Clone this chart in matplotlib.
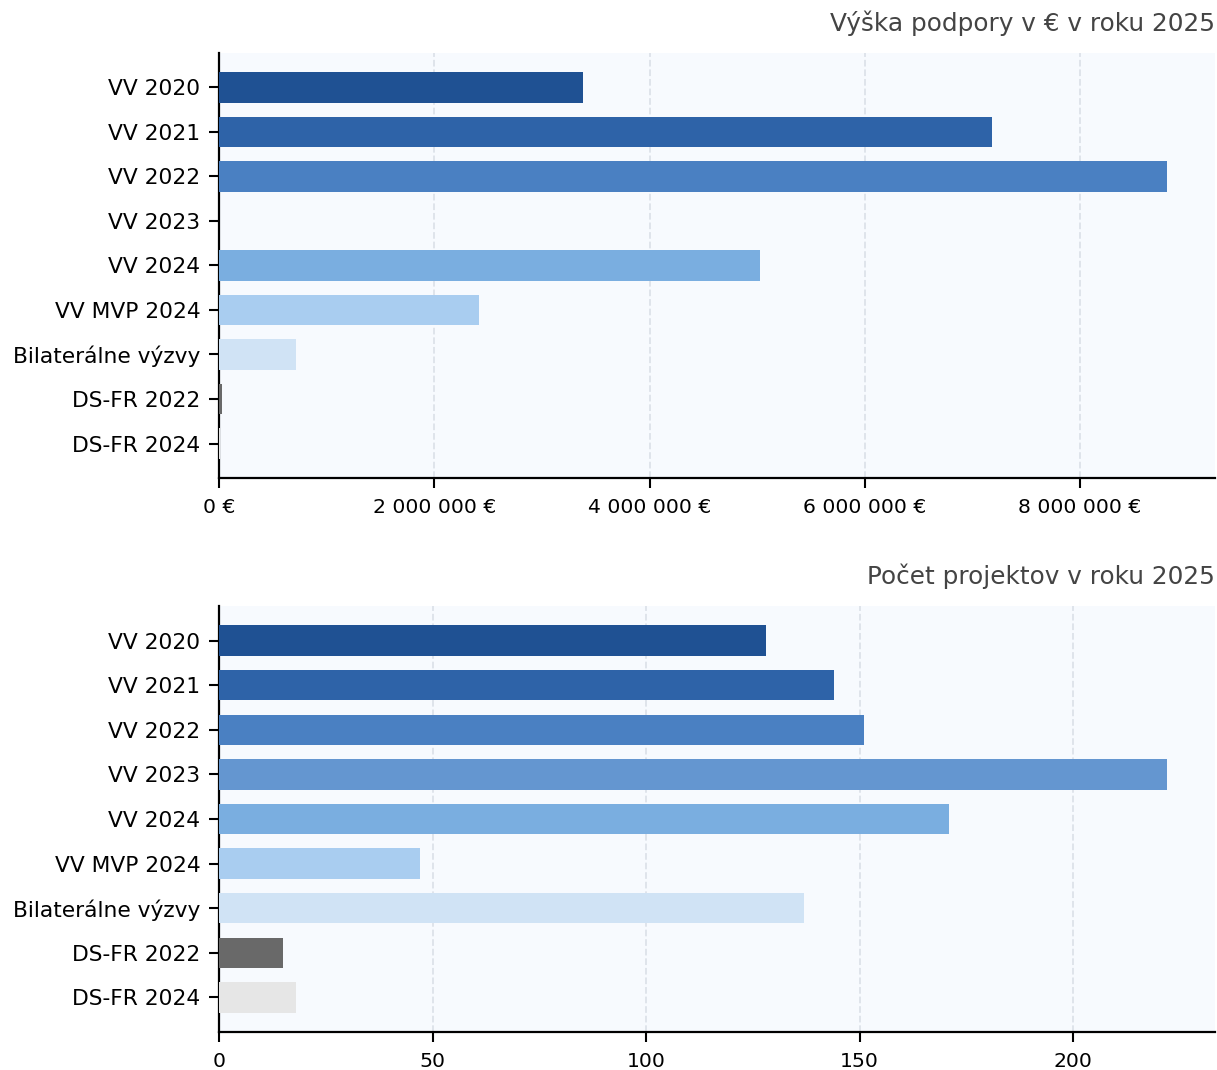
import matplotlib.pyplot as plt
from matplotlib.ticker import FuncFormatter, MultipleLocator

# data
programs = ["VV 2020", "VV 2021", "VV 2022", "VV 2023", "VV 2024",
            "VV MVP 2024", "Bilaterálne výzvy", "DS-FR 2022", "DS-FR 2024"]
support_eur = [3385000, 7180000, 8810000, 0, 5030000,
               2420000, 716000, 30000, 12000]
project_count = [128, 144, 151, 222, 171, 47, 137, 15, 18]
colors = ["#1f5193", "#2e63a8", "#4a80c2", "#6496d0", "#7aaee0",
          "#a9cdf0", "#d0e3f5", "#696969", "#e6e6e6"]

fig = plt.figure(figsize=(12.17, 10.7), dpi=100)
ax1 = fig.add_axes([0.18, 0.5533, 0.818, 0.3972])
ax2 = fig.add_axes([0.18, 0.0355, 0.818, 0.3981])


def eur(x, pos):
    return f"{x:,.0f}".replace(",", " ") + " €"


def style(ax, values, title):
    ax.set_facecolor("#f7fafe")
    ax.barh(programs, values, color=colors, height=0.68, zorder=3)
    ax.invert_yaxis()
    ax.set_xlim(0, max(values) * 1.05)
    ax.grid(axis="x", linestyle="--", color="#dde2ea", linewidth=1.3, zorder=0)
    for s in ["top", "right"]:
        ax.spines[s].set_visible(False)
    for s in ["left", "bottom"]:
        ax.spines[s].set_linewidth(1.6)
    ax.tick_params(axis="y", labelsize=15.7, length=7.5, width=1.5, pad=6)
    ax.tick_params(axis="x", labelsize=14.7, length=7.5, width=1.5, pad=7)
    ax.set_title(title, loc="right", fontsize=17.8, color="#444444", pad=16)


style(ax1, support_eur, "Výška podpory v € v roku 2025")
ax1.xaxis.set_major_locator(MultipleLocator(2000000))
ax1.xaxis.set_major_formatter(FuncFormatter(eur))

style(ax2, project_count, "Počet projektov v roku 2025")
ax2.xaxis.set_major_locator(MultipleLocator(50))

fig.savefig("out.png", dpi=100)
